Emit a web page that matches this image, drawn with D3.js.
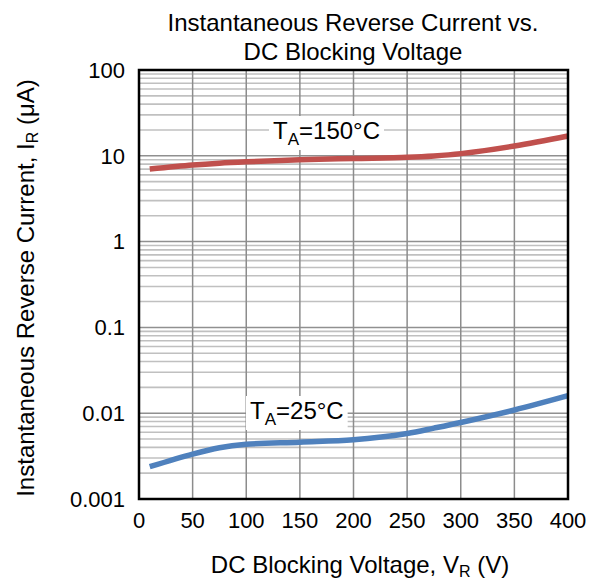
<!DOCTYPE html>
<html>
<head>
<meta charset="utf-8">
<script src="https://cdn.jsdelivr.net/npm/d3@7"></script>
<style>
  body { margin: 0; background: #fff; }
  text { font-family: "Liberation Sans", Arial, sans-serif; fill: #000; }
</style>
</head>
<body>
<svg id="chart" width="598" height="581"></svg>
<script>
// data
var voltage = [10, 50, 75, 100, 150, 200, 250, 275, 300, 350, 400];
var current150 = [7.0, 7.8, 8.2, 8.5, 9.0, 9.3, 9.6, 9.95, 10.6, 13.0, 17.0];
var current25 = [0.00238, 0.00334, 0.00396, 0.00434, 0.0046, 0.0049, 0.0058, 0.0067, 0.0078, 0.0109, 0.016];
var xTicks = [0, 50, 100, 150, 200, 250, 300, 350, 400];
var yTicks = [0.001, 0.01, 0.1, 1, 10, 100];
var yTickLabels = ["0.001", "0.01", "0.1", "1", "10", "100"];

(function () {
var svg = d3.select("#chart");
var pl = 139, pr = 568, pt = 70, pb = 499;

var x = d3.scaleLinear().domain([0, 400]).range([pl, pr]);
var y = d3.scaleLog().domain([0.001, 100]).range([pb, pt]);

// minor horizontal grid (2..9 of each decade)
var minor = [];
yTicks.slice(0, -1).forEach(function (d) {
  for (var k = 2; k <= 9; k++) minor.push(d * k);
});
svg.append("g").selectAll("line").data(minor).enter().append("line")
  .attr("x1", pl).attr("x2", pr)
  .attr("y1", function (d) { return y(d); }).attr("y2", function (d) { return y(d); })
  .attr("stroke", "#c0c0c0").attr("stroke-width", 1.6);

// decade lines
svg.append("g").selectAll("line").data(yTicks).enter().append("line")
  .attr("x1", pl).attr("x2", pr)
  .attr("y1", function (d) { return y(d); }).attr("y2", function (d) { return y(d); })
  .attr("stroke", "#909090").attr("stroke-width", 1.5);

// vertical grid
svg.append("g").selectAll("line").data(xTicks).enter().append("line")
  .attr("y1", pt).attr("y2", pb)
  .attr("x1", function (d) { return x(d); }).attr("x2", function (d) { return x(d); })
  .attr("stroke", "#8c8c8c").attr("stroke-width", 1.5);

var labels = svg.append("g");
// label boxes mask the grid
function tempLabel(px, py, sub, rest) {
  var t = labels.append("text").attr("x", px).attr("y", py).attr("font-size", 24);
  t.append("tspan").text("T");
  t.append("tspan").attr("font-size", 17).attr("dy", 6).text(sub);
  t.append("tspan").attr("dy", -6).text(rest);
  var b = t.node().getBBox();
  labels.insert("rect", "text").attr("x", b.x - 4).attr("y", b.y - 1)
    .attr("width", b.width + 8).attr("height", b.height + 2).attr("fill", "#fff");
}

var line = d3.line().curve(d3.curveCatmullRom)
  .x(function (d) { return x(d[0]); }).y(function (d) { return y(d[1]); });

tempLabel(273, 139, "A", "=150°C");
tempLabel(250, 419, "A", "=25°C");

svg.append("path").datum(d3.zip(voltage, current150)).attr("d", line)
  .attr("fill", "none").attr("stroke", "#c0504d").attr("stroke-width", 5.5);
svg.append("path").datum(d3.zip(voltage, current25)).attr("d", line)
  .attr("fill", "none").attr("stroke", "#4f81bd").attr("stroke-width", 5.5);

// frame
svg.append("rect").attr("x", pl).attr("y", pt)
  .attr("width", pr - pl).attr("height", pb - pt)
  .attr("fill", "none").attr("stroke", "#000").attr("stroke-width", 2.5);

// tick labels
svg.append("g").selectAll("text").data(xTicks).enter().append("text")
  .attr("x", function (d) { return x(d); }).attr("y", 528)
  .attr("text-anchor", "middle").attr("font-size", 22)
  .text(function (d) { return d; });

svg.append("g").selectAll("text").data(yTicks).enter().append("text")
  .attr("x", 125).attr("y", function (d) { return y(d); }).attr("dy", "0.35em")
  .attr("text-anchor", "end").attr("font-size", 22)
  .text(function (d, i) { return yTickLabels[i]; });

// titles
svg.append("text").attr("x", 353).attr("y", 31).attr("text-anchor", "middle")
  .attr("font-size", 24).text("Instantaneous Reverse Current vs.");
svg.append("text").attr("x", 353).attr("y", 60).attr("text-anchor", "middle")
  .attr("font-size", 24).text("DC Blocking Voltage");

var xt = svg.append("text").attr("x", 360).attr("y", 573).attr("text-anchor", "middle")
  .attr("font-size", 24);
xt.append("tspan").text("DC Blocking Voltage, V");
xt.append("tspan").attr("font-size", 16).attr("dy", 4).text("R");
xt.append("tspan").attr("dy", -4).text(" (V)");

var yt = svg.append("text").attr("transform", "translate(34,288) rotate(-90)")
  .attr("text-anchor", "middle").attr("font-size", 24);
yt.append("tspan").text("Instantaneous Reverse Current, I");
yt.append("tspan").attr("font-size", 16).attr("dy", 4).text("R");
yt.append("tspan").attr("dy", -4).text(" (μA)");
})();
</script>
</body>
</html>
